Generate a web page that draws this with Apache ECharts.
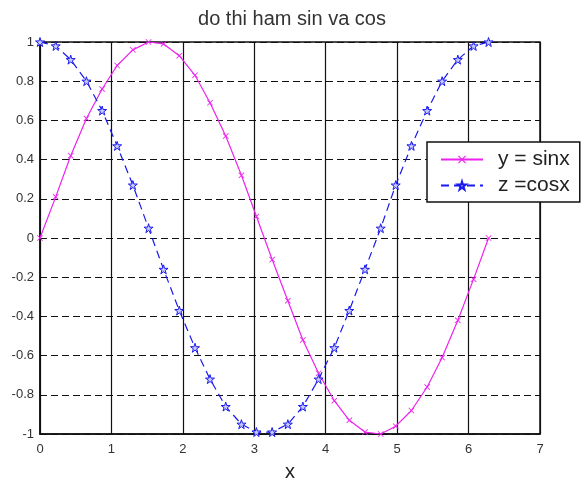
<!DOCTYPE html>
<html>
<head>
<meta charset="utf-8">
<script src="https://cdn.jsdelivr.net/npm/echarts@6/dist/echarts.min.js"></script>
<style>
  html, body { margin: 0; padding: 0; background: #fff; }
  #chart { width: 581px; height: 482px; }
</style>
</head>
<body>
<div id="chart"></div>
<script>
// Sample points along x (0 .. 2*pi)
const xValues = [0, 0.22, 0.43, 0.65, 0.87, 1.08, 1.30, 1.52, 1.73, 1.95, 2.17, 2.38, 2.60, 2.82, 3.03,
                 3.25, 3.47, 3.68, 3.90, 4.12, 4.33, 4.55, 4.77, 4.98, 5.20, 5.42, 5.63, 5.85, 6.07, 6.28];
const sinValues = [0, 0.21, 0.42, 0.61, 0.76, 0.88, 0.96, 1.00, 0.99, 0.93, 0.83, 0.69, 0.52, 0.32, 0.11,
                   -0.11, -0.32, -0.52, -0.69, -0.83, -0.93, -0.99, -1.00, -0.96, -0.88, -0.76, -0.61, -0.42, -0.21, 0];
const cosValues = [1.00, 0.98, 0.91, 0.80, 0.65, 0.47, 0.27, 0.05, -0.16, -0.37, -0.56, -0.72, -0.86, -0.95, -0.99,
                   -0.99, -0.95, -0.86, -0.72, -0.56, -0.37, -0.16, 0.05, 0.27, 0.47, 0.65, 0.80, 0.91, 0.98, 1.00];
const seriesNames = ['y = sinx', 'z =cosx'];
const titleText = 'do thi ham sin va cos';
const xAxisName = 'x';

const pair = (ys) => xValues.map((x, i) => [x, ys[i]]);

// Marker shapes: a thin "x" cross and a five-pointed star
const crossPath = 'path://M0,1L1,0L5,4L9,0L10,1L6,5L10,9L9,10L5,6L1,10L0,9L4,5Z';
const starPath = 'path://M50,0L61,35L98,35L68,57L79,91L50,70L21,91L32,57L2,35L39,35Z';

const fontFamily = 'Liberation Sans, Arial, sans-serif';

const chart = echarts.init(document.getElementById('chart'), null, { renderer: 'canvas' });
chart.setOption({
  backgroundColor: '#ffffff',
  animation: false,
  title: {
    text: titleText,
    left: 287, top: 4, textAlign: 'center',
    textStyle: { fontFamily, fontSize: 20, fontWeight: 'normal', color: '#333' }
  },
  grid: {
    left: 40, right: 41, top: 42, bottom: 48,
    outerBoundsMode: 'none', containLabel: false,
    show: true, borderColor: '#111', borderWidth: 1.5, backgroundColor: 'transparent'
  },
  legend: {
    orient: 'vertical',
    left: 427, top: 142,
    padding: [7, 10, 6, 13],
    itemWidth: 42, itemHeight: 10, itemGap: 5,
    backgroundColor: '#fff', borderColor: '#111', borderWidth: 1.5, borderRadius: 0,
    textStyle: { fontFamily, fontSize: 21, color: '#222', padding: [0, 0, 0, 10] },
    data: seriesNames
  },
  xAxis: {
    type: 'value', min: 0, max: 7, interval: 1,
    name: xAxisName, nameLocation: 'middle', nameGap: 28,
    nameTextStyle: { fontFamily, fontSize: 20, color: '#222' },
    axisLine: { show: true, onZero: false, lineStyle: { color: '#111', width: 1.5 } },
    axisTick: { show: false },
    axisLabel: { fontFamily, fontSize: 13, color: '#333', margin: 9 },
    splitLine: { show: true, lineStyle: { color: '#111', width: 1.2, type: 'solid' } }
  },
  yAxis: {
    type: 'value', min: -1, max: 1, interval: 0.2,
    axisLine: { show: true, onZero: false, lineStyle: { color: '#111', width: 1.5 } },
    axisTick: { show: false },
    axisLabel: {
      fontFamily, fontSize: 13, color: '#333', margin: 6,
      formatter: (v) => String(+v.toFixed(1))
    },
    splitLine: { show: true, lineStyle: { color: '#111', width: 1.2, type: [7, 4] } }
  },
  series: [
    {
      name: seriesNames[0], type: 'line', data: pair(sinValues),
      symbol: crossPath, symbolSize: 6, showAllSymbol: true,
      lineStyle: { color: '#ee22ee', width: 1.2 },
      itemStyle: { color: '#ee22ee' },
      z: 3
    },
    {
      name: seriesNames[1], type: 'line', data: pair(cosValues),
      symbol: starPath, symbolSize: 9, showAllSymbol: true,
      lineStyle: { color: '#1a1aee', width: 1.2, type: [8, 5] },
      itemStyle: { color: '#c8c8ff', borderColor: '#1a1aee', borderWidth: 1 },
      z: 4
    }
  ]
});
</script>
</body>
</html>
